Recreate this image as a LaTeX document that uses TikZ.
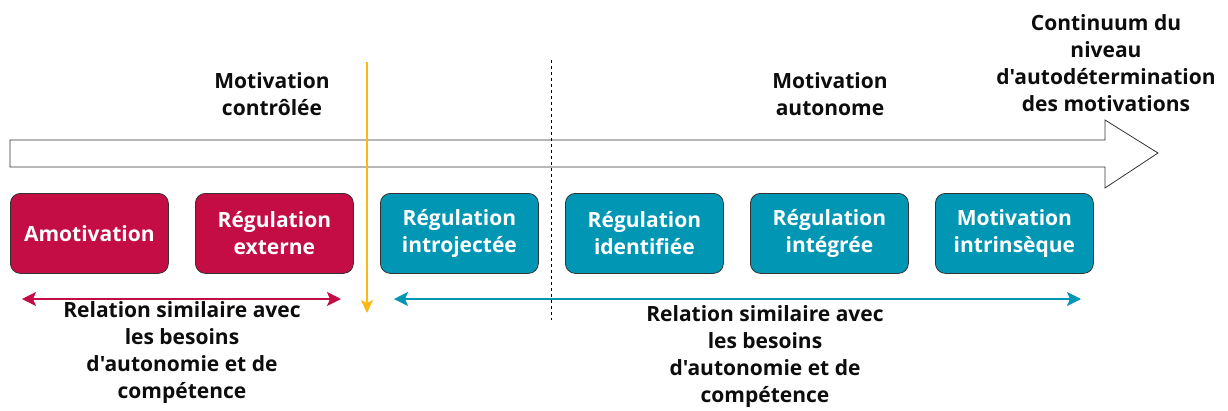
\documentclass[tikz,border=0pt]{standalone}
\usepackage{fontspec}
\newfontfamily\osans{Open Sans}
\usetikzlibrary{arrows.meta}
\definecolor{crim}{HTML}{C40C45}
\definecolor{teal2}{HTML}{0096B4}
\definecolor{gold}{HTML}{FDB913}
\begin{document}
\begin{tikzpicture}[x=1pt,y=-1pt,
  box/.style={draw=black!80,line width=0.8pt,rounded corners=10pt,minimum width=158pt,minimum height=80pt,text=white,font=\osans\bfseries\fontsize{21}{27}\selectfont,align=center,anchor=north west,inner sep=0pt},
  lbl/.style={font=\osans\bfseries\fontsize{21}{27}\selectfont,align=center,text=black!95}]
\useasboundingbox (0,0) rectangle (1228,410);
% big arrow
\draw[black!80,line width=0.8pt,fill=white] (10,140) -- (1105,140) -- (1105,120) -- (1158,153) -- (1105,188) -- (1105,167) -- (10,167) -- cycle;
% dashed line
\draw[dashed,line width=0.7pt] (551,60) -- (551,320);
% boxes
\node[box,fill=crim] (a) at (10,193) {Amotivation};
\node[box,fill=crim] (b) at (195,193) {Régulation\\externe};
\node[box,fill=teal2] (c) at (380,193) {Régulation\\introjectée};
\node[box,fill=teal2] (d) at (565,193) {Régulation\\identifiée};
\node[box,fill=teal2] (e) at (750,193) {Régulation\\intégrée};
\node[box,fill=teal2] (f) at (935,193) {Motivation\\intrinsèque};
% yellow arrow
\coordinate (y1) at (367,62);
\coordinate (y2) at (367,313);
\draw[gold,line width=1.6pt,-{Stealth[length=13pt,width=12pt,inset=3pt]}] (y1) -- (y2);
% pink arrow
\coordinate (p1) at (22,299);
\coordinate (p2) at (341,299);
\draw[crim,line width=1.6pt,{Stealth[length=14pt,width=14pt,inset=3pt]}-{Stealth[length=14pt,width=14pt,inset=3pt]}] (p1) -- (p2);
% teal arrow
\coordinate (t1) at (394,299);
\coordinate (t2) at (1081,299);
\draw[teal2,line width=1.6pt,{Stealth[length=14pt,width=14pt,inset=3pt]}-{Stealth[length=14pt,width=14pt,inset=3pt]}] (t1) -- (t2);
% labels
\node[lbl] (mc) at (272,94) {Motivation\\contrôlée};
\node[lbl] (ma) at (830,94) {Motivation\\autonome};
\node[lbl] (ct) at (1106,63) {Continuum du\\niveau\\d'autodétermination\\des motivations};
\node[lbl] (r1) at (182,353) {Relation similaire avec\\les besoins\\d'autonomie et de\\compétence};
\node[lbl] (r2) at (765,357) {Relation similaire avec\\les besoins\\d'autonomie et de\\compétence};
\end{tikzpicture}
\end{document}
